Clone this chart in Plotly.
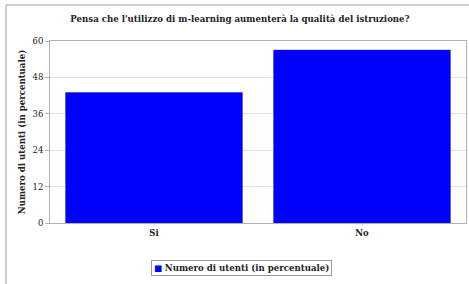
import plotly.graph_objects as go

categories = ["Si", "No"]
values = [43, 57]
series_name = "Numero di utenti (in percentuale)"
y_ticks = [0, 12, 24, 36, 48, 60]
title_text = "Pensa che l'utilizzo di m-learning aumenterà la qualità del istruzione?"
y_title = "Numero di utenti (in percentuale)"

W, H = 469, 284
ml, mr, mt, mb = 50, 3, 41, 61
pw, ph = W - ml - mr, H - mt - mb

font_fam = "DejaVu Serif, Liberation Serif, serif"
bar_color = "#0000ff"

fig = go.Figure()
fig.add_trace(go.Bar(
    x=categories, y=values, name=series_name,
    marker=dict(color=bar_color, line=dict(color="#2020a0", width=0.5)),
    showlegend=False,
))

def px_x(p):
    return (p - ml) / pw

def px_y(p):
    return (H - mb - p) / ph

fig.update_layout(
    width=W, height=H,
    margin=dict(l=ml, r=mr, t=mt, b=mb),
    paper_bgcolor="white", plot_bgcolor="white",
    bargap=0.15,
    title=dict(text="<b>" + title_text + "</b>", x=px_x(240), xref="paper", xanchor="center",
               y=1 - 19 / H, yanchor="middle",
               font=dict(family=font_fam, size=8.6, color="#222222")),
    xaxis=dict(showgrid=False, showline=True, linecolor="#b0b0b0", linewidth=1, mirror=True,
               ticks="outside", ticklen=2, tickcolor="#d0d0d0",
               tickfont=dict(family=font_fam, size=8.5, color="#222222"),
               tickprefix="<b>", ticksuffix="</b>"),
    yaxis=dict(range=[0, 60], tickvals=y_ticks, showgrid=True, gridcolor="#e4e4e4", gridwidth=1,
               showline=True, linecolor="#b0b0b0", linewidth=1, mirror=True,
               ticks="outside", ticklen=4, tickcolor="#b0b0b0",
               tickfont=dict(family=font_fam, size=8.5, color="#222222"),
               tickprefix="<b>", ticksuffix="</b>", zeroline=False,
               title=dict(text="<b>" + y_title + "</b>", standoff=5,
                          font=dict(family=font_fam, size=8.6, color="#222222"))),
    shapes=[dict(type="rect", xref="paper", yref="paper",
                 x0=px_x(6), x1=px_x(480), y0=px_y(300), y1=px_y(5),
                 line=dict(color="#9a9a9a", width=1), fillcolor="rgba(0,0,0,0)", layer="below")],
    annotations=[dict(
        text="<span style='color:%s'>■</span> <b>%s</b>" % (bar_color, series_name),
        xref="paper", yref="paper", x=px_x(241), y=px_y(268),
        xanchor="center", yanchor="middle", showarrow=False,
        font=dict(family=font_fam, size=8.6, color="#222222"),
        bordercolor="#9a9a9a", borderwidth=1, borderpad=2, bgcolor="white")],
)

fig.write_html("out.html", config={"displayModeBar": False},
               post_script="document.body.style.margin='0px';document.body.style.overflow='hidden';")
